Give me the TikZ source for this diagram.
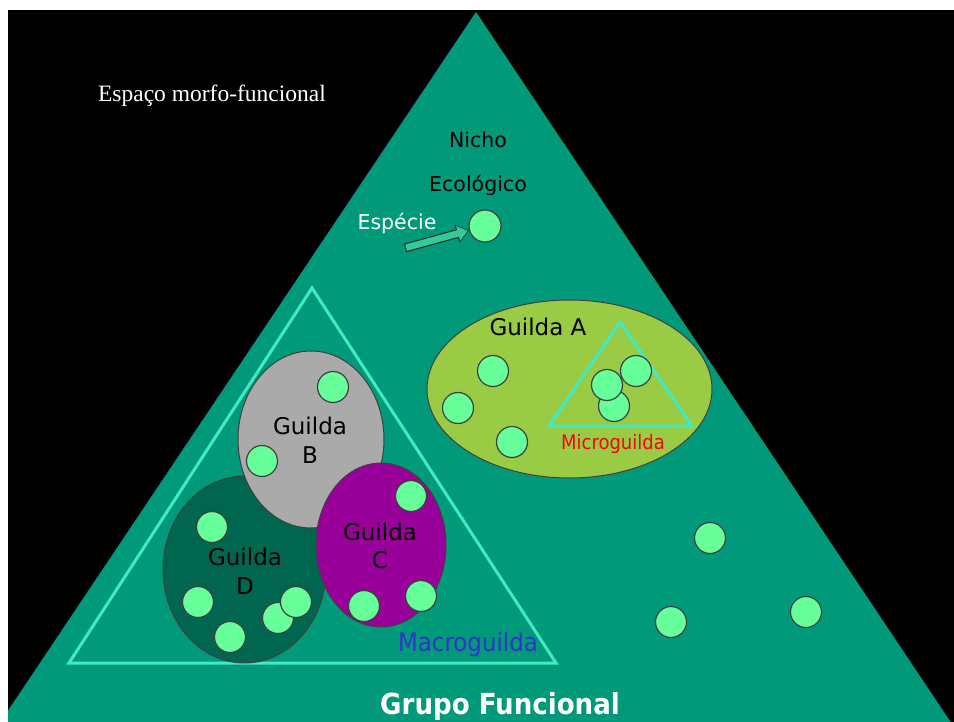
\documentclass[tikz,border=0pt]{standalone}
\usepackage{fontspec}
\setmainfont{DejaVu Sans}
\newfontfamily\oldserif{Liberation Serif}
\newfontfamily\condsans{DejaVu Sans Condensed}
\usetikzlibrary{shapes.geometric,arrows.meta}
\definecolor{bigteal}{RGB}{0,153,122}
\definecolor{spgreen}{RGB}{102,255,153}
\definecolor{guildA}{RGB}{153,204,68}
\definecolor{guildB}{RGB}{170,170,170}
\definecolor{guildC}{RGB}{153,0,153}
\definecolor{guildD}{RGB}{0,102,80}
\definecolor{triline}{RGB}{64,235,196}
\definecolor{macroblue}{RGB}{51,51,204}
\definecolor{arrowfill}{RGB}{51,204,153}
\begin{document}
\begin{tikzpicture}[x=1pt,y=-1pt,
  sp/.style={circle, draw=black!75, line width=1.2pt, fill=spgreen, minimum size=31pt, inner sep=0pt},
  guild/.style={ellipse, draw=black!75, line width=1pt, inner sep=0pt},
  lab/.style={anchor=base, inner sep=0pt, font=\fontsize{23}{26}\selectfont},
  trib/.style={draw=triline, line width=3pt, line join=miter}
]
\useasboundingbox (0,0) rectangle (954,722);
\fill[white] (0,0) rectangle (954,722);
\fill[black] (8,10) rectangle (954,722);
\begin{scope}
  \clip (8,10) rectangle (954,722);
  \fill[bigteal] (476,12) -- (-1,724) -- (952,724) -- cycle;
\end{scope}

% texts top
\node[anchor=base, inner sep=0pt, text=white, font=\oldserif\fontsize{23.5}{26}\selectfont] (esp) at (212,102) {Espaço morfo-funcional};
\node[anchor=base, inner sep=0pt, font=\fontsize{20.5}{24}\selectfont] (nicho) at (478,148) {Nicho};
\node[anchor=base, inner sep=0pt, font=\fontsize{20.5}{24}\selectfont] (eco) at (478,192) {Ecológico};
\node[anchor=base, inner sep=0pt, text=white, font=\fontsize{20.5}{24}\selectfont] (especie) at (397,230) {Espécie};

% species + arrow
\node[sp, minimum size=32pt] (s0) at (485,226) {};
\coordinate (atail) at (405,248);
\draw[black!80, line width=9pt, -{Triangle[width=18pt,length=12.5pt]}] (atail) -- (s0);
\draw[arrowfill, line width=6.5pt, shorten >=1.3pt, shorten <=1.2pt, -{Triangle[width=14.5pt,length=10pt]}] (atail) -- (s0);

% Guilda A
\node[guild, fill=guildA, minimum width=285pt, minimum height=178pt] (gA) at (569.5,389) {};
\node[lab] (labA) at (538,335) {Guilda A};
\node[sp] (a1) at (493,371) {};
\node[sp] (a2) at (458,408) {};
\node[sp] (a3) at (512,442) {};
\draw[trib] (620,322) -- (692,426) -- (549,426) -- cycle;
\node[sp] (a6) at (636,371) {};
\node[sp] (a4) at (614,406) {};
\node[sp] (a5) at (607,385) {};
\node[anchor=base, inner sep=0pt, text=red, font=\condsans\fontsize{20}{22}\selectfont] (micro) at (613,449) {Microguilda};

% Macroguilda triangle
\draw[trib] (312,288) -- (556,663) -- (69,663) -- cycle;

% Guilda D
\node[guild, fill=guildD, minimum width=163pt, minimum height=187pt] (gD) at (244.5,569.5) {};
\node[lab] (labD1) at (245,565) {Guilda};
\node[lab] (labD2) at (245,594) {D};
\node[sp] (d1) at (212,527) {};
\node[sp] (d2) at (198,602) {};
\node[sp] (d3) at (230,637) {};
\node[sp] (d4) at (278,618) {};
\node[sp] (d5) at (296,602) {};

% Guilda B
\node[guild, fill=guildB, minimum width=146pt, minimum height=177pt] (gB) at (311,439.5) {};
\node[lab] (labB1) at (310,434) {Guilda};
\node[lab] (labB2) at (310,463) {B};
\node[sp] (b1) at (333,387) {};
\node[sp] (b2) at (262,461) {};

% Guilda C
\node[guild, fill=guildC, minimum width=130pt, minimum height=164pt] (gC) at (381,545) {};
\node[lab] (labC1) at (380,540) {Guilda};
\node[lab] (labC2) at (380,568) {C};
\node[sp] (c1) at (411,496) {};
\node[sp] (c2) at (364,606) {};
\node[sp] (c3) at (421,596) {};

\node[anchor=base, inner sep=0pt, text=macroblue, font=\condsans\fontsize{25.5}{28}\selectfont] (macro) at (468,651) {Macroguilda};

% free species
\node[sp] (f1) at (710,538) {};
\node[sp] (f2) at (671,622) {};
\node[sp] (f3) at (806,612) {};

\node[anchor=base, inner sep=0pt, text=white, font=\condsans\bfseries\fontsize{29}{32}\selectfont] (grupo) at (500,714) {Grupo Funcional};
\end{tikzpicture}
\end{document}
